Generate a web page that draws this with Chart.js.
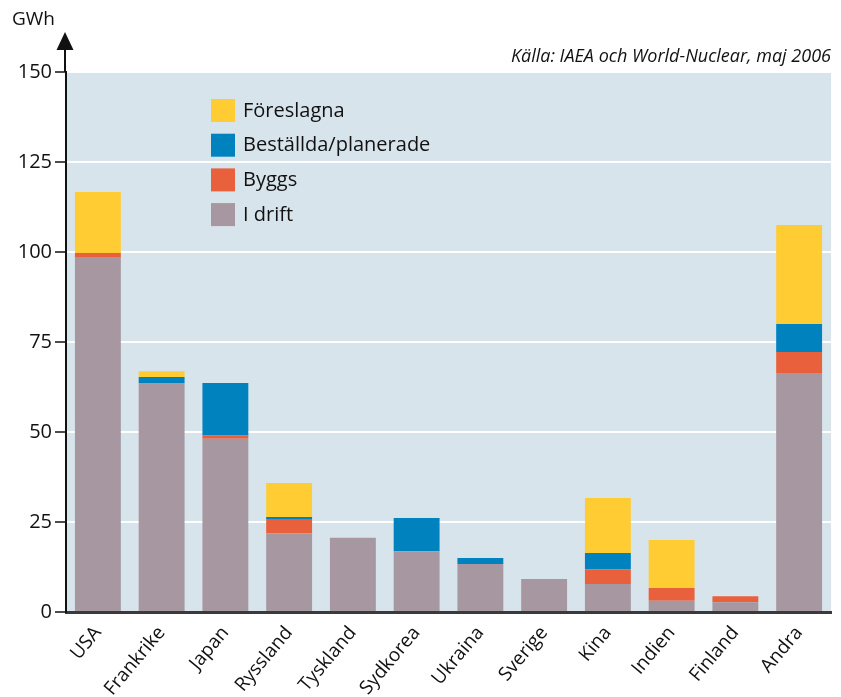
<!DOCTYPE html>
<html><head><meta charset="utf-8">
<script src="https://cdn.jsdelivr.net/npm/chart.js@4/dist/chart.umd.min.js"></script>
<style>html,body{margin:0;padding:0;background:#fff;}#wrap{width:841px;height:697px;position:relative}</style>
</head><body><div id="wrap"><canvas id="c" width="841" height="697"></canvas></div>
<script>
const categories = ['USA','Frankrike','Japan','Ryssland','Tyskland','Sydkorea','Ukraina','Sverige','Kina','Indien','Finland','Andra'];
const iDrift     = [98.4,63.6,48.1,21.9,20.6,16.9,13.3,9.2,7.8,3.1,2.7,66.4];
const byggs      = [1.3,0,0.9,3.7,0,0,0,0,4.1,3.6,1.7,5.8];
const bestallda  = [0,1.7,14.6,0.8,0,9.2,1.7,0,4.5,0,0,7.8];
const foreslagna = [17.0,1.6,0,9.4,0,0,0,0,15.3,13.3,0,27.5];
const yTicks = [0,25,50,75,100,125,150];
const unitLabel = 'GWh';
const sourceText = 'Källa: IAEA och World-Nuclear, maj 2006';

const FONT = "'Open Sans', 'DejaVu Sans', sans-serif";

const decor = {
  id: 'decor',
  beforeDraw(chart) {
    const {ctx, chartArea: a} = chart;
    ctx.save();
    ctx.fillStyle = '#d8e4ec';
    ctx.fillRect(a.left, a.top, a.right - a.left, a.bottom - a.top);
    ctx.restore();
  },
  afterDraw(chart) {
    const {ctx, chartArea: a} = chart;
    ctx.save();
    const x = a.left - 1;
    ctx.strokeStyle = '#111';
    ctx.lineWidth = 2;
    ctx.beginPath();
    ctx.moveTo(x, a.top);
    ctx.lineTo(x, 45);
    ctx.stroke();
    ctx.fillStyle = '#111';
    ctx.beginPath();
    ctx.moveTo(x, 32);
    ctx.lineTo(x - 8.5, 50);
    ctx.lineTo(x + 8.5, 50);
    ctx.closePath();
    ctx.fill();
    ctx.font = "19px " + FONT;
    ctx.textAlign = 'left';
    ctx.textBaseline = 'alphabetic';
    ctx.fillText(unitLabel, 12, 25);
    ctx.font = "italic 18px " + FONT;
    ctx.textAlign = 'right';
    ctx.fillText(sourceText, a.right, 62);
    const items = chart.data.datasets.slice().reverse();
    ctx.font = "20px " + FONT;
    ctx.textAlign = 'left';
    ctx.textBaseline = 'middle';
    items.forEach((ds, i) => {
      const y = 99 + i * 34.7;
      ctx.fillStyle = ds.backgroundColor;
      ctx.fillRect(211, y, 24, 23);
      ctx.fillStyle = '#111';
      ctx.fillText(ds.label, 243, y + 12);
    });
    ctx.restore();
  }
};

new Chart(document.getElementById('c'), {
  type: 'bar',
  data: {
    labels: categories,
    datasets: [
      {label: 'I drift', data: iDrift, backgroundColor: '#a697a0'},
      {label: 'Byggs', data: byggs, backgroundColor: '#e8603c'},
      {label: 'Beställda/planerade', data: bestallda, backgroundColor: '#0082bf'},
      {label: 'Föreslagna', data: foreslagna, backgroundColor: '#ffcc33'}
    ]
  },
  options: {
    responsive: false,
    devicePixelRatio: 1,
    animation: false,
    layout: {padding: {top: 72, right: 10, left: 0, bottom: 0}},
    datasets: {bar: {categoryPercentage: 1, barPercentage: 0.72, borderWidth: 0}},
    plugins: {legend: {display: false}, tooltip: {enabled: false}, title: {display: false}},
    scales: {
      x: {
        stacked: true,
        afterFit(s) { s.height = 85; },
        grid: {display: false, drawTicks: false},
        border: {display: true, color: '#3a3a3a', width: 3},
        ticks: {
          color: '#111', font: {family: FONT, size: 19},
          minRotation: 50, maxRotation: 50, padding: 10
        }
      },
      y: {
        stacked: true,
        min: 0, max: 150,
        afterFit(s) { s.width = 66; },
        afterBuildTicks(s) { s.ticks = yTicks.map(v => ({value: v})); },
        grid: {color: '#ffffff', lineWidth: 2, tickColor: '#111', tickLength: 11, tickWidth: 1.5, drawOnChartArea: true},
        border: {display: true, color: '#111', width: 2},
        ticks: {color: '#111', font: {family: FONT, size: 20}, padding: 3}
      }
    }
  },
  plugins: [decor]
});
</script>
</body></html>
